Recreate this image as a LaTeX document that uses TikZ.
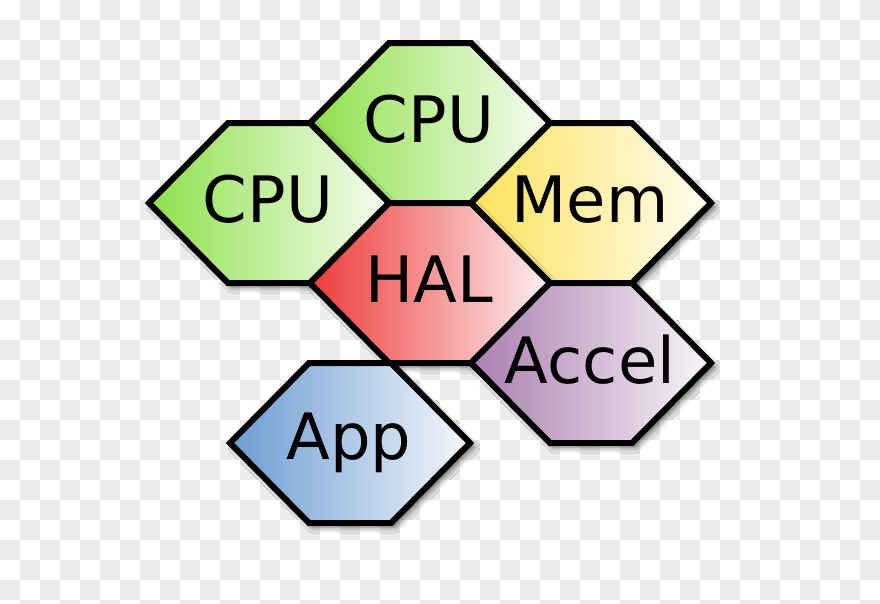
\documentclass[tikz,border=0pt]{standalone}
\usepackage{fontspec}
\setmainfont{DejaVu Sans}
\usetikzlibrary{shadows.blur}
\definecolor{checkgray}{HTML}{ECECEC}
\definecolor{cpugreen}{HTML}{8EE04A}
\definecolor{memyellow}{HTML}{FCE25A}
\definecolor{halred}{HTML}{EE3A3A}
\definecolor{accelpurple}{HTML}{A97EAE}
\definecolor{appblue}{HTML}{6B9BD1}
\tikzset{
  hexcell/.style={draw=black, line width=6pt, line join=miter,
    blur shadow={shadow xshift=4pt, shadow yshift=-4pt, shadow blur radius=6pt, shadow opacity=60}},
  hexlabel/.style={anchor=base, inner sep=0pt, font=\fontsize{64}{76}\selectfont}
}
\begin{document}
\begin{tikzpicture}[x=1pt, y=-1pt]
\useasboundingbox (0,0) rectangle (880,603);
% checkerboard
\begin{scope}
\clip (0,0) rectangle (880,603);
\foreach \j in {0,...,30}
{
    \foreach \i in {0,...,21}
    {
        \fill[checkgray] ({40*\i+20*mod(\j+1,2)},{20*\j}) rectangle ++(20,20);
    }
}
\end{scope}

% cells
\foreach \cx/\cy/\dy/\col/\txt/\nm in {430/123/19/cpugreen/CPU/cputop,
    269/203/19/cpugreen/CPU/cpuleft, 591/203/19/memyellow/Mem/mem,
    430/283/19/halred/HAL/hal, 591/363/20/accelpurple/Accel/accel,
    350/443/16/appblue/App/app}
{
    \filldraw[hexcell, left color=\col, right color=\col!7!white]
        (\cx-120,\cy) -- (\cx-41,\cy-80) -- (\cx+41,\cy-80)
        -- (\cx+120,\cy) -- (\cx+41,\cy+80) -- (\cx-41,\cy+80) -- cycle;
    \node[hexlabel] (\nm) at (\cx-1,\cy+\dy) {\txt};
}
\end{tikzpicture}
\end{document}
